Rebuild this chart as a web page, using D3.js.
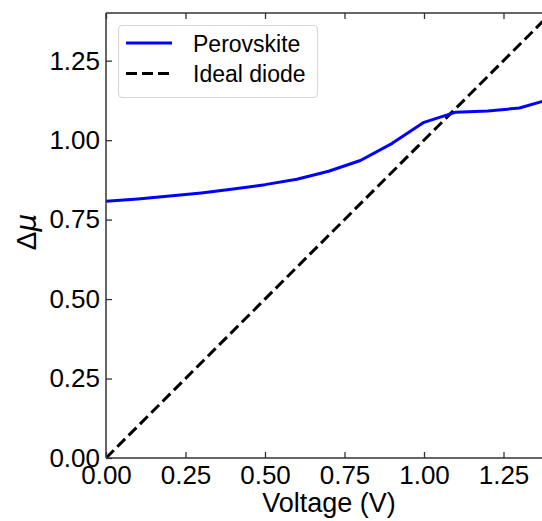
<!DOCTYPE html>
<html><head><meta charset="utf-8">
<script src="https://cdn.jsdelivr.net/npm/d3@7"></script>
<style>body{margin:0;background:#fff}svg{display:block}text{font-family:"Liberation Sans",Arial,sans-serif}</style>
</head><body>
<svg id="c" width="542" height="521"></svg>
<script>
const voltage = [0.0,0.1,0.2,0.3,0.4,0.5,0.6,0.7,0.8,0.9,1.0,1.1,1.2,1.3,1.4];
const perovskite = [0.808,0.815,0.824,0.834,0.846,0.860,0.877,0.902,0.936,0.990,1.056,1.088,1.092,1.101,1.130];
const idealV = [0.0,1.4];
const idealMu = [0.0,1.4];
const xTicks = [0,0.25,0.5,0.75,1.0,1.25];
const yTicks = [0,0.25,0.5,0.75,1.0,1.25];
const legendLabels = ["Perovskite","Ideal diode"];

const svg = d3.select("#c");
const x = d3.scaleLinear().domain([0,1.4]).range([106, 551.2]);
const y = d3.scaleLinear().domain([0,1.4]).range([458, 13]);
const fmt = d3.format(".2f");

svg.append("clipPath").attr("id","pc").append("rect")
  .attr("x",106).attr("y",13).attr("width",445.2).attr("height",445);

const g = svg.append("g").attr("clip-path","url(#pc)");
const line = d3.line().x(d=>x(d[0])).y(d=>y(d[1]));
g.append("path").datum(d3.zip(idealV,idealMu)).attr("d",line)
  .attr("fill","none").attr("stroke","#000").attr("stroke-width",3).attr("stroke-dasharray","11,5");
g.append("path").datum(d3.zip(voltage,perovskite)).attr("d",line)
  .attr("fill","none").attr("stroke","#0000ff").attr("stroke-width",3).attr("stroke-linejoin","round");

function styleAxis(a){
  a.select(".domain").remove();
  a.selectAll(".tick line").attr("stroke","#333").attr("stroke-width",1.3);
  a.selectAll(".tick text").attr("font-size",26).attr("fill","#000");
}
svg.append("g").attr("transform","translate(0,458)")
  .call(d3.axisBottom(x).tickValues(xTicks).tickFormat(fmt).tickSizeInner(-6).tickPadding(8))
  .call(styleAxis);
svg.append("g").attr("transform","translate(0,13)")
  .call(d3.axisTop(x).tickValues(xTicks).tickFormat("").tickSizeInner(-6))
  .call(styleAxis);
svg.append("g").attr("transform","translate(106,0)")
  .call(d3.axisLeft(y).tickValues(yTicks).tickFormat(fmt).tickSizeInner(-6).tickPadding(6))
  .call(styleAxis);

// spines
svg.append("line").attr("x1",106).attr("x2",106).attr("y1",13).attr("y2",458).attr("stroke","#333").attr("stroke-width",1.5);
svg.append("line").attr("x1",106).attr("x2",551).attr("y1",458).attr("y2",458).attr("stroke","#333").attr("stroke-width",1.5);
svg.append("line").attr("x1",106).attr("x2",551).attr("y1",13).attr("y2",13).attr("stroke","#333").attr("stroke-width",1.5);

// axis labels
svg.append("text").attr("x",329).attr("y",512).attr("text-anchor","middle").attr("font-size",27).text("Voltage (V)");
const yl = svg.append("text").attr("transform","translate(36,232) rotate(-90)").attr("text-anchor","middle").attr("font-size",28);
yl.append("tspan").text("Δ");
yl.append("tspan").attr("font-style","italic").attr("font-family","DejaVu Sans").text("μ");

// legend
const lg = svg.append("g");
lg.append("rect").attr("x",118.5).attr("y",25.5).attr("width",199).attr("height",72).attr("rx",4)
  .attr("fill","#fff").attr("fill-opacity",0.8).attr("stroke","#d8d8d8").attr("stroke-width",1.2);
const styles = [{c:"#0000ff",d:null},{c:"#000",d:"11,5"}];
legendLabels.forEach((t,i)=>{
  const yy = 43 + i*30.5;
  const l = lg.append("line").attr("x1",126).attr("x2",172).attr("y1",yy).attr("y2",yy)
    .attr("stroke",styles[i].c).attr("stroke-width",3);
  if(styles[i].d) l.attr("stroke-dasharray",styles[i].d);
  lg.append("text").attr("x",193).attr("y",yy+8.5).attr("font-size",23).text(t);
});
</script>
</body></html>
